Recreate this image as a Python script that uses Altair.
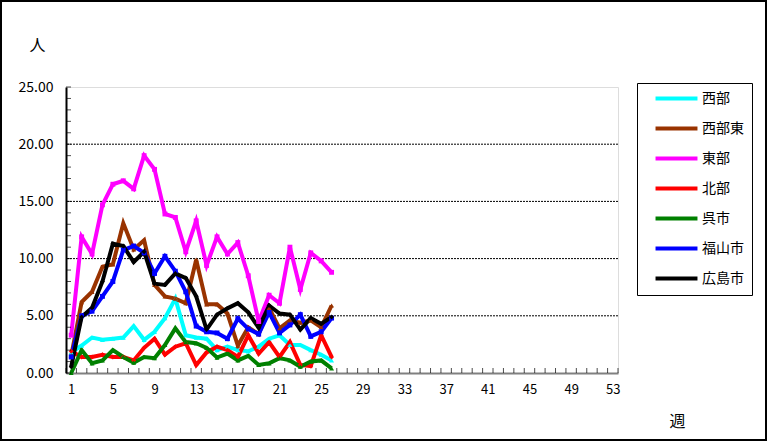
import altair as alt
import pandas as pd

weeks = list(range(1, 27))
series_names = ["西部", "西部東", "東部", "北部", "呉市", "福山市", "広島市"]
seibu = [1.8, 2.4, 3.1, 2.9, 3.0, 3.1, 4.1, 2.9, 3.6, 4.8, 6.5, 3.3, 3.1, 3.0, 2.0, 2.3, 2.0, 1.9, 2.3, 3.0, 3.3, 2.45, 2.45, 2.0, 1.6, 1.1]
seibu_higashi = [1.5, 6.2, 7.1, 9.3, 9.5, 13.1, 10.8, 11.6, 7.7, 6.7, 6.5, 6.1, 9.9, 6.0, 6.0, 5.2, 2.4, 4.0, 3.4, 5.7, 3.9, 4.6, 4.4, 4.6, 4.0, 5.9]
toubu = [3.3, 11.9, 10.4, 14.7, 16.5, 16.8, 16.1, 19.0, 17.8, 13.9, 13.6, 10.6, 13.3, 9.4, 11.9, 10.4, 11.4, 8.5, 4.5, 6.8, 6.1, 11.0, 7.3, 10.5, 9.8, 8.8]
hokubu = [1.9, 1.4, 1.4, 1.6, 1.4, 1.4, 1.1, 2.2, 3.0, 1.6, 2.3, 2.6, 0.7, 1.8, 2.3, 2.0, 1.4, 3.3, 1.7, 2.7, 1.4, 2.7, 0.7, 0.6, 3.3, 1.4]
kure = [0.0, 2.0, 0.85, 1.1, 2.0, 1.4, 0.9, 1.4, 1.3, 2.45, 3.9, 2.7, 2.6, 2.2, 1.35, 1.7, 1.1, 1.5, 0.7, 0.85, 1.3, 1.1, 0.55, 1.0, 1.1, 0.4]
fukuyama = [1.4, 5.0, 5.4, 6.7, 8.0, 10.75, 11.1, 10.5, 8.7, 10.2, 8.9, 7.1, 4.1, 3.6, 3.5, 3.0, 4.75, 3.85, 3.4, 5.3, 3.5, 4.2, 5.1, 3.2, 3.6, 4.8]
hiroshima = [0.55, 4.9, 5.7, 8.0, 11.3, 11.1, 9.7, 10.6, 7.8, 7.7, 8.7, 8.3, 6.7, 3.8, 5.1, 5.65, 6.1, 5.3, 3.95, 5.9, 5.2, 5.1, 3.8, 4.8, 4.3, 4.9]

colors = ["#00FFFF", "#993300", "#FF00FF", "#FF0000", "#008000", "#0000FF", "#000000"]
shapes = ["triangle-up", "triangle-up", "square", "diamond", "triangle-up", "square", "diamond"]

x_labels = list(range(1, 54, 2))
y_labels = [0, 5, 10, 15, 20, 25]
grid_values = [5, 10, 15, 20]
y_minor = list(range(0, 26))
x_minor = [w + 0.5 for w in range(0, 54)]

rows = []
for name, vals in zip(series_names, [seibu, seibu_higashi, toubu, hokubu, kure, fukuyama, hiroshima]):
    for w, v in zip(weeks, vals):
        rows.append({"週": w, "人": v, "地域": name})
df = pd.DataFrame(rows)

W, H = 552, 286
FONT = "Noto Sans CJK JP"
xscale = alt.Scale(domain=[0.5, 53.5], nice=False, zero=False)
yscale = alt.Scale(domain=[0, 25], nice=False)

xaxis = alt.Axis(
    values=x_labels, title="週", labelFontSize=13, labelFont=FONT, labelColor="black",
    ticks=False, labelPadding=10, domainColor="#808080", domainWidth=2, grid=False,
    labelFlush=False, labelOverlap=False, titleX=611, titleY=40, titleFontSize=16,
    titleFont=FONT, titleFontWeight="normal", titleColor="black")
yaxis = alt.Axis(
    values=y_labels, format=".2f", title="人", labelFontSize=14, labelFont=FONT,
    labelColor="black", ticks=False, labelPadding=13, domainColor="black", domainWidth=2,
    grid=False, titleAngle=0, titleX=-29, titleY=-42, titleAlign="center",
    titleBaseline="middle", titleFontSize=16, titleFont=FONT, titleFontWeight="normal",
    titleColor="black")

lines = alt.Chart(df).mark_line(strokeWidth=4).encode(
    x=alt.X("週:Q", scale=xscale, axis=xaxis),
    y=alt.Y("人:Q", scale=yscale, axis=yaxis),
    color=alt.Color("地域:N", scale=alt.Scale(domain=series_names, range=colors),
                    legend=alt.Legend(title=None, orient="none", legendX=571, legendY=-4,
                                      symbolType="M-4,0H4", symbolStrokeWidth=4, symbolSize=110,
                                      labelFontSize=14, labelFont=FONT, labelColor="black",
                                      strokeColor="black", fillColor="white", padding=8,
                                      rowPadding=13, labelOffset=18, symbolOffset=24)),
)

grid = alt.Chart(pd.DataFrame({"人": grid_values})).mark_rule(
    color="black", strokeWidth=1, strokeDash=[2, 1]
).encode(y=alt.Y("人:Q", scale=yscale, axis=yaxis))

point_layers = []
for name, col, shp in zip(series_names, colors, shapes):
    point_layers.append(
        alt.Chart(df).transform_filter(alt.datum["地域"] == name)
        .mark_point(filled=True, size=24, opacity=1, color=col, shape=shp)
        .encode(x=alt.X("週:Q", scale=xscale, axis=xaxis),
                y=alt.Y("人:Q", scale=yscale, axis=yaxis))
    )

xticks = alt.Chart(pd.DataFrame({"週": x_minor})).mark_tick(
    orient="vertical", size=5, thickness=1, color="black", yOffset=-2.5
).encode(x=alt.X("週:Q", scale=xscale, axis=xaxis), y=alt.datum(0))

yticks = alt.Chart(pd.DataFrame({"人": y_minor})).mark_tick(
    orient="horizontal", size=5, thickness=1, color="black", xOffset=2.5
).encode(y=alt.Y("人:Q", scale=yscale, axis=yaxis), x=alt.datum(0.5))

frame = alt.Chart(pd.DataFrame({"a": [0]})).mark_rect(
    filled=False, stroke="black", strokeWidth=2
).encode(x=alt.value(-65), x2=alt.value(W + 148), y=alt.value(-86), y2=alt.value(H + 67))

chart = alt.layer(grid, lines, *point_layers, xticks, yticks, frame).properties(
    width=W, height=H, autosize="none",
    padding={"left": 66, "top": 87, "right": 149, "bottom": 69},
).configure_view(stroke="#808080", strokeWidth=2).configure(font=FONT, background="white")

chart.save("out.html", embed_options={"renderer": "svg", "actions": False})
